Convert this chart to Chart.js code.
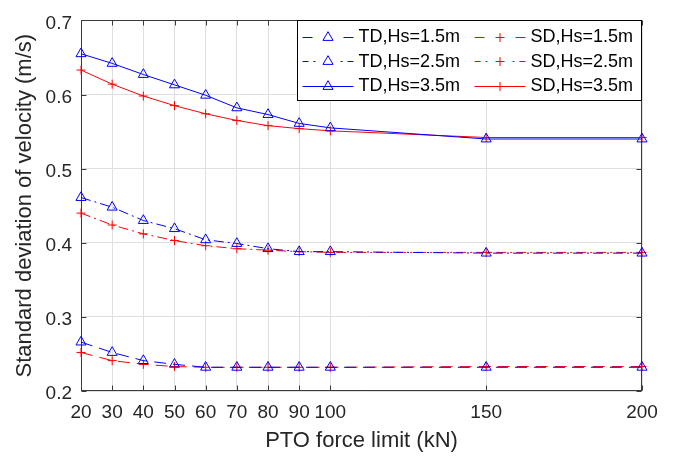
<!DOCTYPE html>
<html>
<head>
<meta charset="utf-8">
<title>Standard deviation of velocity vs PTO force limit</title>
<script src="https://cdn.jsdelivr.net/npm/chart.js@4/dist/chart.umd.min.js"></script>
<style>
  html, body { margin: 0; padding: 0; background: #ffffff; }
  #wrap { width: 674px; height: 457px; }
</style>
</head>
<body>
<div id="wrap"><canvas id="chart" width="674" height="457"></canvas></div>
<script>
// PTO force limit (kN)
const forceLimits = [20, 30, 40, 50, 60, 70, 80, 90, 100, 150, 200];

// Standard deviation of velocity (m/s), time-domain (TD) and spectral-domain (SD) results
const tdHs15 = [0.266, 0.252, 0.241, 0.236, 0.232, 0.232, 0.232, 0.232, 0.232, 0.232, 0.232];
const sdHs15 = [0.252, 0.241, 0.236, 0.233, 0.232, 0.232, 0.232, 0.232, 0.232, 0.233, 0.233];
const tdHs25 = [0.461, 0.448, 0.430, 0.419, 0.404, 0.399, 0.392, 0.388, 0.388, 0.386, 0.386];
const sdHs25 = [0.440, 0.424, 0.412, 0.403, 0.396, 0.392, 0.390, 0.388, 0.387, 0.387, 0.387];
const tdHs35 = [0.655, 0.642, 0.627, 0.613, 0.599, 0.582, 0.573, 0.561, 0.555, 0.540, 0.540];
const sdHs35 = [0.633, 0.614, 0.598, 0.585, 0.574, 0.565, 0.558, 0.554, 0.551, 0.542, 0.542];

// Axis ticks
const xTicks = [20, 30, 40, 50, 60, 70, 80, 90, 100, 150, 200];
const yTicks = [0.2, 0.3, 0.4, 0.5, 0.6, 0.7];

const FONT = '"Liberation Sans", Arial, Helvetica, sans-serif';
const INK = '#262626';
const BLUE = '#0000ff';
const RED = '#ff0000';
const DASH = [12, 7];
const DASHDOT = [10, 4, 2, 4];

const toPoints = ys => forceLimits.map((x, i) => ({ x, y: ys[i] }));

function series(label, ys, color, dash, marker) {
  const tri = marker === 'triangle';
  return {
    label,
    data: toPoints(ys),
    borderColor: color,
    borderWidth: 1,
    borderDash: dash,
    backgroundColor: 'rgba(0,0,0,0)',
    pointStyle: marker,
    pointRadius: tri ? 5.8 : 4.5,
    pointHoverRadius: tri ? 5.8 : 4.5,
    pointBorderColor: color,
    pointBackgroundColor: 'rgba(0,0,0,0)',
    pointBorderWidth: 1,
    tension: 0,
    fill: false,
    clip: false
  };
}

const datasets = [
  series('TD,Hs=1.5m', tdHs15, BLUE, DASH, 'triangle'),
  series('SD,Hs=1.5m', sdHs15, RED, DASH, 'cross'),
  series('TD,Hs=2.5m', tdHs25, BLUE, DASHDOT, 'triangle'),
  series('SD,Hs=2.5m', sdHs25, RED, DASHDOT, 'cross'),
  series('TD,Hs=3.5m', tdHs35, BLUE, [], 'triangle'),
  series('SD,Hs=3.5m', sdHs35, RED, [], 'cross')
];

// Axes box with inward tick marks
const framePlugin = {
  id: 'frame',
  beforeDatasetsDraw(chart) {
    const { ctx, chartArea: a, scales: { x, y } } = chart;
    const L = Math.round(a.left) + 0.5, R = Math.round(a.right) - 0.5;
    const T = Math.round(a.top) + 0.5, B = Math.round(a.bottom) - 0.5;
    ctx.save();
    ctx.strokeStyle = '#3a3a3a';
    ctx.lineWidth = 1;
    ctx.beginPath();
    x.ticks.forEach(t => {
      const px = Math.round(x.getPixelForValue(t.value)) + 0.5;
      ctx.moveTo(px, B); ctx.lineTo(px, B - 5);
      ctx.moveTo(px, T); ctx.lineTo(px, T + 5);
    });
    y.ticks.forEach(t => {
      const py = Math.round(y.getPixelForValue(t.value)) + 0.5;
      ctx.moveTo(L, py); ctx.lineTo(L + 5, py);
      ctx.moveTo(R, py); ctx.lineTo(R - 5, py);
    });
    ctx.stroke();
    ctx.strokeRect(L, T, R - L, B - T);
    ctx.restore();
  }
};

// Line sample pieces (start, end offsets along a 51 px sample) for each line style
function samplePieces(dash) {
  if (dash === DASH) return [[0, 10], [41, 51]];
  if (dash === DASHDOT) return [[0, 6], [11, 13], [38, 40], [45, 51]];
  return [[0, 51]];
}

// Two-column legend box in the upper right corner of the axes
const legendPlugin = {
  id: 'boxLegend',
  afterDatasetsDraw(chart) {
    const { ctx, chartArea: a } = chart;
    const boxW = 344, boxH = 80;
    const bx = Math.round(a.right) - boxW - 0.5, by = Math.round(a.top) + 0.5;
    ctx.save();
    ctx.fillStyle = '#ffffff';
    ctx.fillRect(bx, by, boxW, boxH);
    ctx.strokeStyle = '#000000';
    ctx.lineWidth = 1;
    ctx.setLineDash([]);
    ctx.strokeRect(bx, by, boxW, boxH);

    const cols = [
      { lx: bx + 5, idx: [0, 2, 4] },
      { lx: bx + 177, idx: [1, 3, 5] }
    ];
    const rowY = [by + 16, by + 40.5, by + 65];
    ctx.font = '18px ' + FONT;
    ctx.textBaseline = 'middle';
    ctx.textAlign = 'left';
    cols.forEach(col => {
      col.idx.forEach((di, r) => {
        const ds = chart.data.datasets[di];
        const yy = Math.round(rowY[r]) + 0.5;
        const x1 = col.lx, x2 = col.lx + 51, xm = (x1 + x2) / 2;
        ctx.save();
        ctx.strokeStyle = ds.borderColor;
        ctx.fillStyle = 'rgba(0,0,0,0)';
        ctx.lineWidth = ds.borderWidth;
        ctx.setLineDash([]);
        ctx.beginPath();
        samplePieces(ds.borderDash).forEach(([s, e]) => {
          ctx.moveTo(x1 + s, yy); ctx.lineTo(x1 + e, yy);
        });
        ctx.stroke();
        ctx.lineWidth = ds.pointBorderWidth;
        Chart.helpers.drawPoint(ctx, {
          pointStyle: ds.pointStyle,
          radius: ds.pointRadius,
          rotation: 0,
          borderWidth: ds.pointBorderWidth
        }, xm, yy);
        ctx.restore();
        ctx.fillStyle = '#000000';
        ctx.fillText(ds.label, x2 + 5, rowY[r] + 1);
      });
    });
    ctx.restore();
  }
};

new Chart(document.getElementById('chart'), {
  type: 'line',
  data: { datasets },
  options: {
    responsive: false,
    animation: false,
    devicePixelRatio: 1,
    layout: { padding: { left: 0, right: 32, top: 16, bottom: 0 } },
    plugins: {
      legend: { display: false },
      tooltip: { enabled: false }
    },
    scales: {
      x: {
        type: 'linear',
        min: 20,
        max: 200,
        afterBuildTicks: s => { s.ticks = xTicks.map(v => ({ value: v })); },
        afterFit: s => { s.height = 66; },
        grid: { color: '#dfdfdf', lineWidth: 1, drawTicks: false },
        border: { display: false },
        ticks: {
          padding: 10,
          autoSkip: false,
          maxRotation: 0,
          color: INK,
          font: { family: FONT, size: 19 },
          callback: v => String(v)
        },
        title: {
          display: true,
          text: 'PTO force limit (kN)',
          color: INK,
          font: { family: FONT, size: 22, lineHeight: 1.2 },
          padding: { top: 0, bottom: 3 }
        }
      },
      y: {
        type: 'linear',
        min: 0.2,
        max: 0.7,
        afterBuildTicks: s => { s.ticks = yTicks.map(v => ({ value: v })); },
        afterFit: s => { s.width = 81; },
        grid: { color: '#dfdfdf', lineWidth: 1, drawTicks: false },
        border: { display: false },
        ticks: {
          padding: 9,
          labelOffset: 3,
          color: INK,
          font: { family: FONT, size: 19 },
          callback: v => v.toFixed(1)
        },
        title: {
          display: true,
          text: 'Standard deviation of velocity (m/s)',
          color: INK,
          font: { family: FONT, size: 22, lineHeight: 1.2 },
          padding: { top: 12, bottom: 0 }
        }
      }
    }
  },
  plugins: [framePlugin, legendPlugin]
});
</script>
</body>
</html>
